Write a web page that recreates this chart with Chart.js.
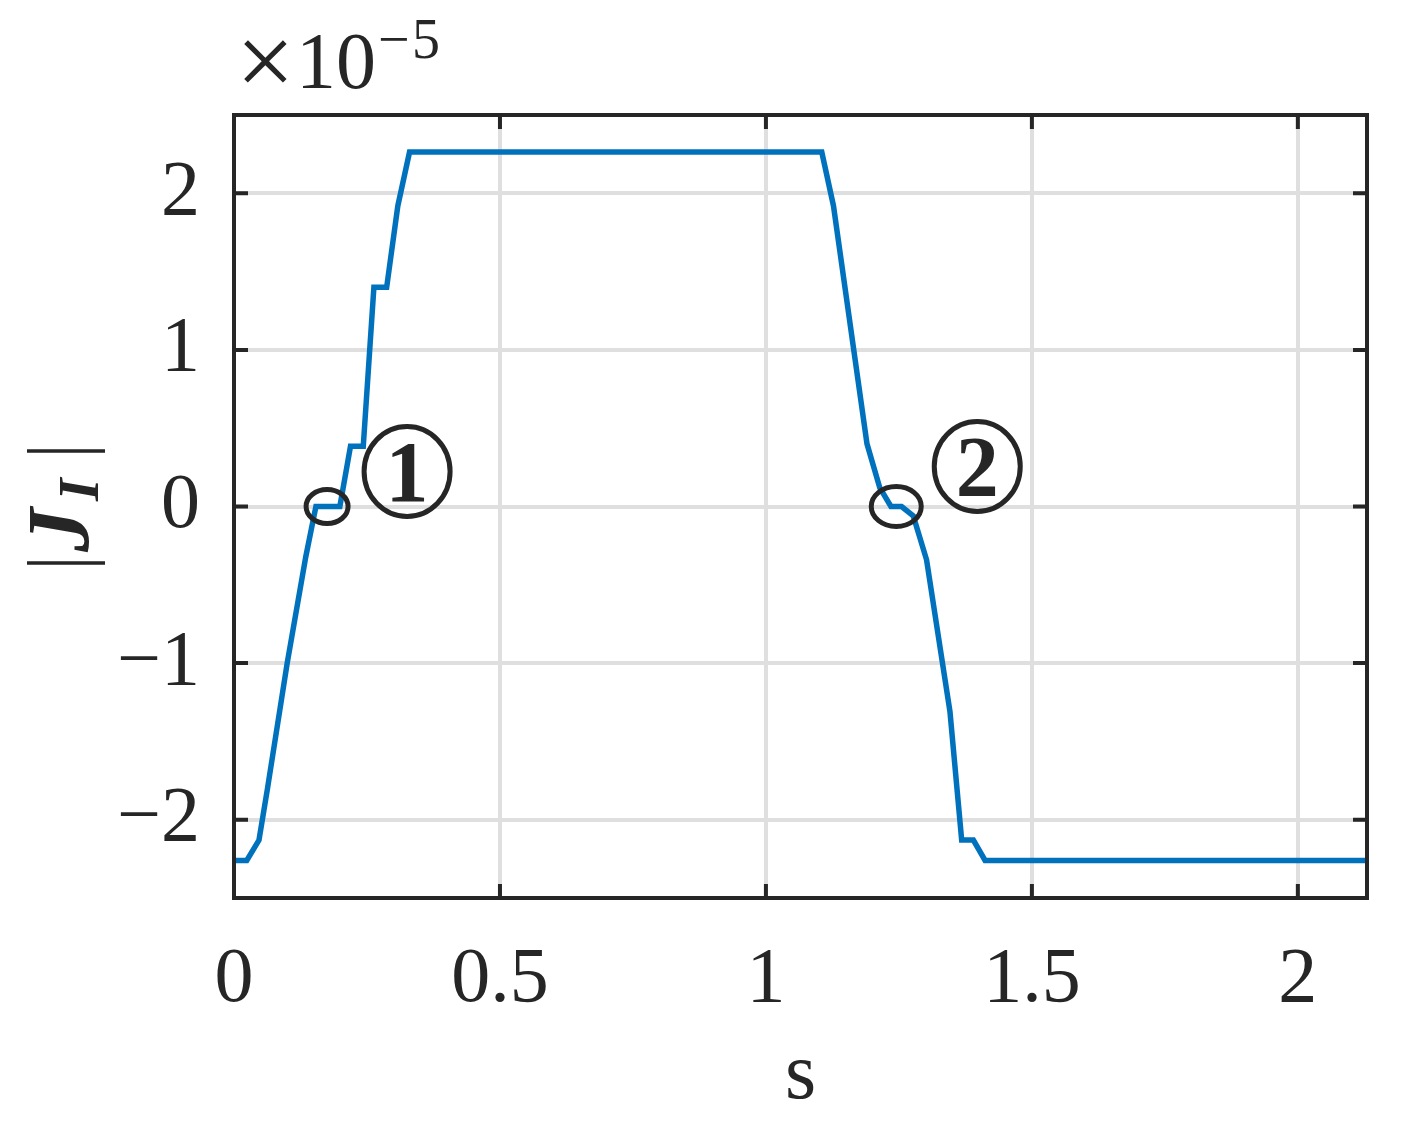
<!DOCTYPE html>
<html>
<head>
<meta charset="utf-8">
<script src="https://cdn.jsdelivr.net/npm/chart.js@4.4.1/dist/chart.umd.min.js"></script>
<style>
html,body{margin:0;padding:0;background:#fff;}
#wrap{width:1404px;height:1121px;}
</style>
</head>
<body>
<div id="wrap"><canvas id="c" width="1404" height="1121"></canvas></div>
<script>
// ---- data (values in units of 1e-5) ----
const sValues = [0, 0.024, 0.047, 0.063, 0.100, 0.135, 0.154, 0.199, 0.219, 0.243, 0.263, 0.287, 0.308, 0.330,
                 1.105, 1.127, 1.190, 1.214, 1.235, 1.255, 1.277, 1.302, 1.346, 1.368, 1.390, 1.412, 2.13];
const jValues = [-2.26, -2.26, -2.13, -1.80, -1.00, -0.32, 0, 0, 0.384, 0.384, 1.40, 1.40, 1.92, 2.263,
                 2.263, 1.92, 0.40, 0.12, 0, 0, -0.06, -0.34, -1.31, -2.13, -2.13, -2.26, -2.26];
const xTicks = [0, 0.5, 1, 1.5, 2];
const yTicks = [-2, -1, 0, 1, 2];
const markerLabels = ['1', '2'];
const markerPoints = [[0.175, 0], [1.245, 0]];

const FONT = '"Liberation Serif", "DejaVu Serif", serif';
const INK = '#262626';

const points = sValues.map((s, i) => ({x: s, y: jValues[i]}));

function fmt(v) {
  const t = String(v);
  return v < 0 ? '\u2212' + t.slice(1) : t;
}

const decor = {
  id: 'decor',
  afterDraw(chart) {
    const ctx = chart.ctx;
    const a = chart.chartArea;
    const xs = chart.scales.x, ys = chart.scales.y;
    ctx.save();
    // box
    ctx.strokeStyle = INK;
    ctx.lineWidth = 4;
    ctx.strokeRect(a.left, a.top, a.right - a.left, a.bottom - a.top);
    // inward ticks on all four sides
    const tl = 14;
    xTicks.forEach(v => {
      const px = xs.getPixelForValue(v);
      ctx.beginPath();
      ctx.moveTo(px, a.bottom); ctx.lineTo(px, a.bottom - tl);
      ctx.moveTo(px, a.top); ctx.lineTo(px, a.top + tl);
      ctx.stroke();
    });
    yTicks.forEach(v => {
      const py = ys.getPixelForValue(v);
      ctx.beginPath();
      ctx.moveTo(a.left, py); ctx.lineTo(a.left + tl, py);
      ctx.moveTo(a.right, py); ctx.lineTo(a.right - tl, py);
      ctx.stroke();
    });
    // exponent label
    ctx.fillStyle = INK;
    ctx.textBaseline = 'alphabetic';
    ctx.textAlign = 'left';
    ctx.font = '104px ' + FONT;
    ctx.fillText('\u00d7', 236, 96);
    ctx.font = '80px ' + FONT;
    ctx.fillText('10', 296, 88);
    ctx.font = '56px ' + FONT;
    ctx.fillText('\u2212', 378, 58);
    ctx.fillText('5', 412, 58);
    // x label
    ctx.font = '80px ' + FONT;
    ctx.textAlign = 'center';
    ctx.fillText('s', (a.left + a.right) / 2, 1098);
    // y label |J_I|
    ctx.save();
    ctx.translate(66, 507);
    ctx.rotate(-Math.PI / 2);
    ctx.lineWidth = 3.5;
    ctx.beginPath();
    ctx.moveTo(-56, -39); ctx.lineTo(-56, 39);
    ctx.moveTo(56, -39); ctx.lineTo(56, 39);
    ctx.stroke();
    ctx.textAlign = 'left';
    ctx.font = 'italic bold 88px ' + FONT;
    ctx.fillText('J', -45, 22);
    ctx.font = 'italic bold 58px ' + FONT;
    ctx.fillText('I', 6, 32);
    ctx.restore();
    // markers: ellipses and circled numbers
    ctx.lineWidth = 5;
    const ell = [[21, 17], [25, 20]];
    const circ = [[80, -35], [81, -40]];
    markerPoints.forEach((p, i) => {
      const px = xs.getPixelForValue(p[0]);
      const py = ys.getPixelForValue(p[1]);
      ctx.beginPath();
      ctx.ellipse(px, py, ell[i][0], ell[i][1], 0, 0, Math.PI * 2);
      ctx.stroke();
      const cx = px + circ[i][0], cy = py + circ[i][1];
      ctx.beginPath();
      ctx.ellipse(cx, cy, 43, 45, 0, 0, Math.PI * 2);
      ctx.stroke();
      ctx.font = 'bold 86px ' + FONT;
      ctx.textAlign = 'center';
      ctx.textBaseline = 'alphabetic';
      ctx.fillText(markerLabels[i], cx, cy + 29);
    });
    ctx.restore();
  }
};

new Chart(document.getElementById('c'), {
  type: 'line',
  data: {
    datasets: [{
      data: points,
      borderColor: '#0072BD',
      borderWidth: 5.5,
      pointRadius: 0,
      tension: 0,
      fill: false
    }]
  },
  options: {
    responsive: false,
    animation: false,
    devicePixelRatio: 1,
    layout: {padding: {left: 0, top: 115, right: 37, bottom: 0}},
    plugins: {legend: {display: false}, tooltip: {enabled: false}},
    scales: {
      x: {
        type: 'linear',
        min: 0, max: 2.13,
        afterBuildTicks: s => { s.ticks = xTicks.map(v => ({value: v})); },
        afterFit: s => { s.height = 223; },
        border: {display: false},
        grid: {color: '#dfdfdf', lineWidth: 4, drawTicks: false},
        ticks: {
          color: INK, padding: 36, maxRotation: 0,
          font: {family: FONT, size: 78},
          callback: v => fmt(v)
        }
      },
      y: {
        type: 'linear',
        min: -2.5, max: 2.5,
        afterBuildTicks: s => { s.ticks = yTicks.map(v => ({value: v})); },
        afterFit: s => { s.width = 234; },
        border: {display: false},
        grid: {color: '#dfdfdf', lineWidth: 4, drawTicks: false},
        ticks: {
          color: INK, padding: 34,
          font: {family: FONT, size: 78},
          callback: v => fmt(v)
        }
      }
    }
  },
  plugins: [decor]
});
</script>
</body>
</html>
